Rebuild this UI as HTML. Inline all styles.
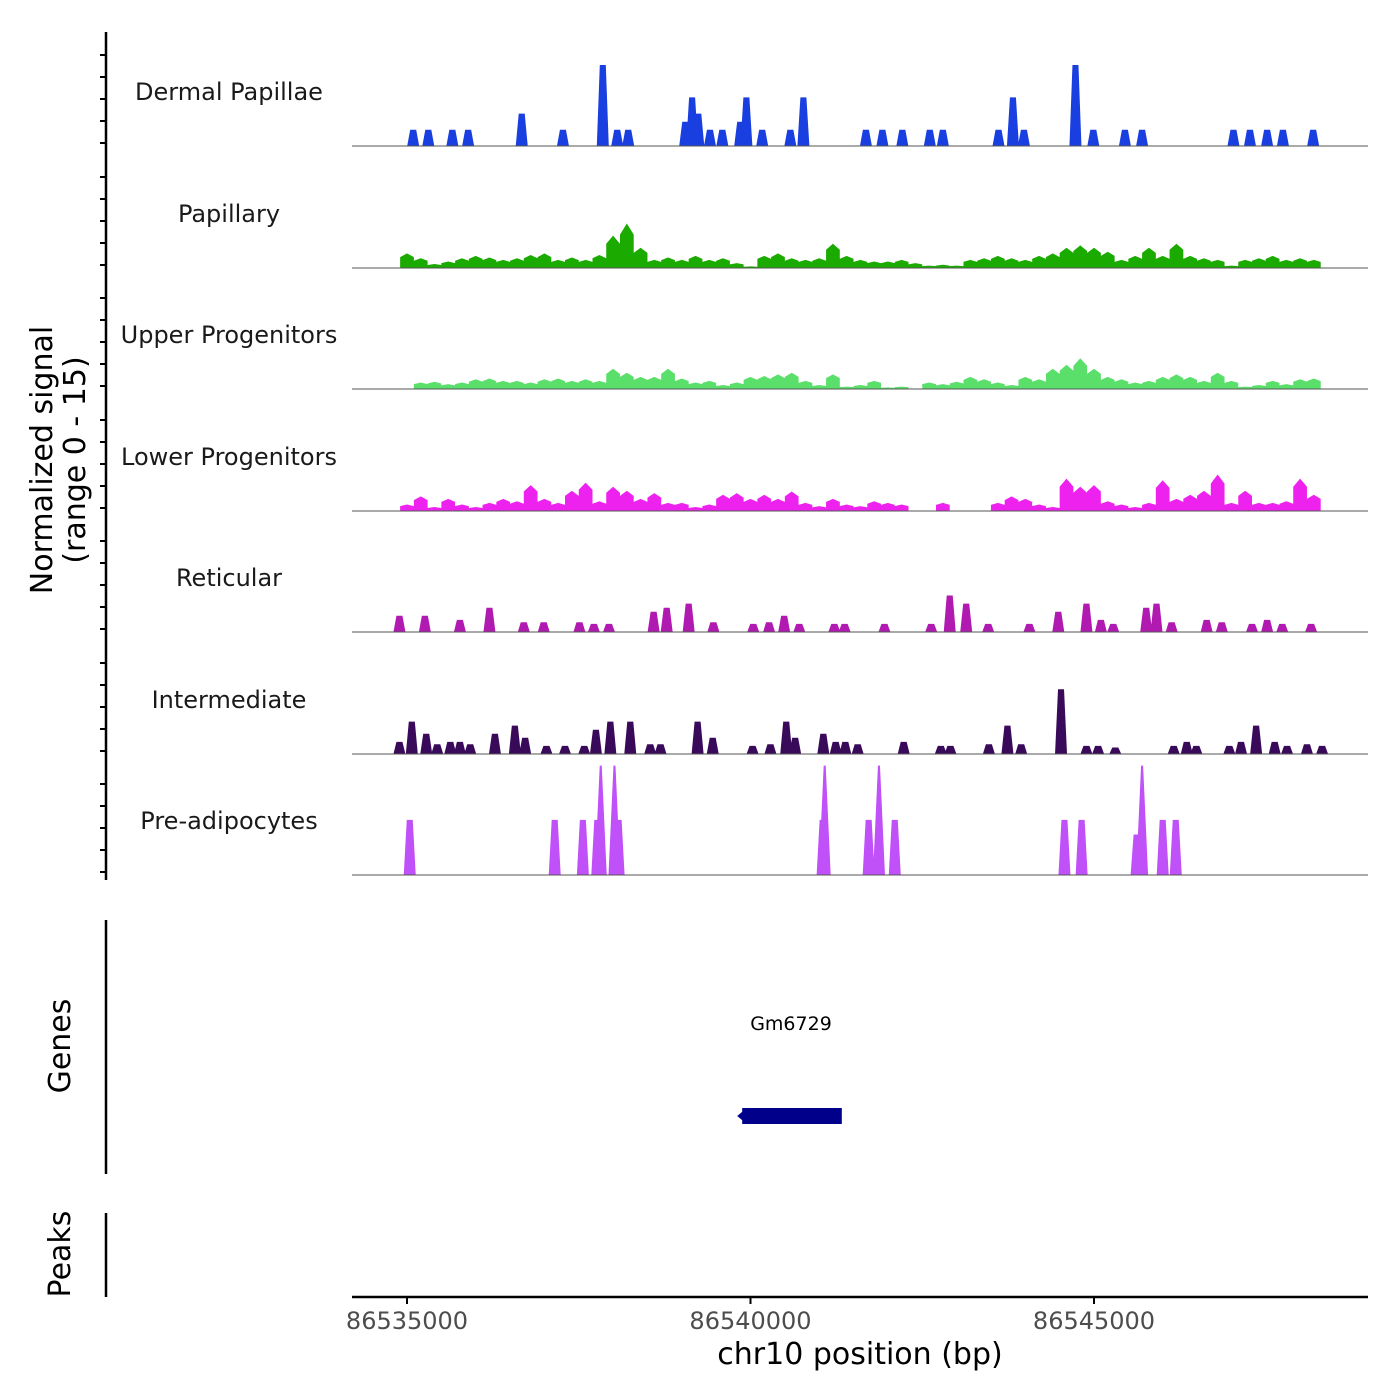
<!DOCTYPE html>
<html><head><meta charset="utf-8"><style>
html,body{margin:0;padding:0;background:#fff;}
svg{display:block;font-family:"DejaVu Sans","Liberation Sans",sans-serif;}
</style></head><body>
<svg id="chart" width="1400" height="1400" viewBox="0 0 1400 1400" xmlns="http://www.w3.org/2000/svg">
<g id="tracks"></g>
<g id="axes"></g>
</svg>
<script>
// ---- data (positions in kb, signal 0-15) ----
const trackNames = ["Dermal Papillae","Papillary","Upper Progenitors","Lower Progenitors","Reticular","Intermediate","Pre-adipocytes"];
const trackColors = ["#1a3fe0","#1aaa00","#5adf6a","#ee22ee","#b01ab0","#3a0a5a","#c050f8"];
const xTickValues = [86535000,86540000,86545000];
const xTickLabels = ["86535000","86540000","86545000"];
// binned tracks: 200bp bins starting at 86534.9 kb
const binStartKb = 86534.9;
const binSizeKb = 0.2;
const papillaryValues = [1.8,1.2,0.5,0.8,1.2,1.5,1.3,1.0,1.2,1.6,1.8,1.0,1.3,1.0,1.6,4.0,5.5,2.5,1.0,1.3,1.0,1.5,1.0,1.2,0.6,0.2,1.5,1.8,1.2,1.0,1.2,3.0,1.5,1.0,0.8,0.8,1.0,0.6,0.3,0.4,0.3,1.0,1.2,1.5,1.2,1.0,1.5,1.8,2.5,2.8,2.5,2.0,1.0,1.5,2.5,1.5,3.0,1.5,1.2,1.0,0.3,1.0,1.2,1.5,1.0,1.2,1.0];
const upperValues = [0,0.8,0.9,0.6,0.8,1.2,1.3,1.0,1.0,0.8,1.2,1.3,1.0,1.2,1.0,2.5,2.0,1.5,1.5,2.5,1.3,0.8,1.0,0.5,0.8,1.5,1.6,1.8,2.0,1.0,0.5,1.8,0.3,0.5,1.0,0.2,0.3,0,0.8,0.6,0.9,1.5,1.2,0.8,0.5,1.5,1.2,2.5,3.0,3.8,2.5,1.5,1.2,0.8,1.0,1.5,1.8,1.5,1.0,2.0,1.0,0.3,0.5,1.0,0.6,1.2,1.3];
const lowerValues = [0.8,1.8,0.5,1.5,0.8,0.5,1.0,1.5,1.2,3.2,1.5,1.0,2.5,3.5,1.2,3.0,2.5,1.5,2.2,1.0,1.0,0.5,0.8,2.0,2.2,1.5,2.0,1.5,2.4,1.0,0.6,1.5,0.8,0.6,1.2,1.0,0.8,0,0,1.0,0,0,0,1.0,1.8,1.5,0.8,0.5,4.0,3.0,3.2,1.2,0.8,0.5,1.0,3.8,1.5,2.0,2.5,4.5,1.0,2.5,1.0,1.0,1.2,4.0,2.0];
// peak tracks: positions (kb) and values
const dermalPos = [86535.09,86535.31,86535.66,86535.89,86536.67,86537.27,86537.85,86538.06,86538.22,86539.05,86539.15,86539.24,86539.41,86539.59,86539.85,86539.94,86540.17,86540.58,86540.77,86541.68,86541.92,86542.21,86542.61,86542.80,86543.61,86543.82,86543.98,86544.73,86544.99,86545.45,86545.70,86547.03,86547.27,86547.52,86547.75,86548.19];
const dermalVal = [2,2,2,2,4,2,10,2,2,3,6,4,2,2,3,6,2,2,6,2,2,2,2,2,2,6,2,10,2,2,2,2,2,2,2,2];
const reticularPos = [86534.89,86535.26,86535.77,86536.20,86536.70,86536.99,86537.51,86537.72,86537.94,86538.59,86538.78,86539.10,86539.46,86540.04,86540.27,86540.49,86540.71,86541.22,86541.37,86541.95,86542.63,86542.90,86543.14,86543.46,86544.06,86544.48,86544.89,86545.10,86545.28,86545.76,86545.91,86546.13,86546.64,86546.86,86547.30,86547.52,86547.74,86548.16];
const reticularVal = [2,2,1.5,3,1.2,1.2,1.2,1,1,2.5,3,3.5,1.2,1,1.2,2,1,1,1,1,1,4.5,3.5,1,1,2.5,3.5,1.5,1,3,3.5,1.2,1.5,1.2,1,1.5,1,1];
const intermediatePos = [86534.89,86535.07,86535.28,86535.44,86535.63,86535.77,86535.92,86536.28,86536.57,86536.72,86537.03,86537.30,86537.58,86537.75,86537.96,86538.25,86538.54,86538.69,86539.23,86539.45,86540.03,86540.29,86540.52,86540.65,86541.06,86541.24,86541.38,86541.56,86542.23,86542.77,86542.91,86543.47,86543.74,86543.94,86544.52,86544.89,86545.06,86545.31,86546.16,86546.35,86546.49,86546.97,86547.14,86547.36,86547.63,86547.81,86548.10,86548.32];
const intermediateVal = [1.5,4,2.5,1.2,1.5,1.5,1.2,2.5,3.5,2,1,1,1,3,4,4,1.2,1.2,4,2,1,1.2,4,2,2.5,1.5,1.5,1.2,1.5,1,1,1.2,3.5,1.2,8,1,1,0.8,1,1.5,1,1,1.5,3.5,1.5,1,1.2,1];
const preadipoPos = [86535.04,86537.15,86537.56,86537.77,86537.82,86538.02,86538.08,86541.05,86541.08,86541.72,86541.87,86542.10,86544.57,86544.82,86545.62,86545.70,86546.00,86546.19];
const preadipoVal = [6.8,6.8,6.8,6.8,13.5,13.5,6.8,6.8,13.5,6.8,13.5,6.8,6.8,6.8,5,13.5,6.8,6.8];

// ---- scales ----
const PLOT_L = 352, PLOT_R = 1368;
const baselines = [146,268,389,511,632,754,875];
const PX_PER_UNIT = 8.1;
function xScale(kb){ return 407 + (kb - 86535) * 68.7; }
function yScale(v, base){ return base - v * PX_PER_UNIT; }

const NS = "http://www.w3.org/2000/svg";
function mk(tag, attrs, parent){ const e=document.createElementNS(NS,tag); for(const k in attrs) e.setAttribute(k,attrs[k]); parent.appendChild(e); return e; }
const tracks = document.getElementById('tracks');
const axes = document.getElementById('axes');

function binnedPath(vals, base){
  let d = "M" + xScale(binStartKb) + "," + base;
  vals.forEach((v,i)=>{
    const x0 = xScale(binStartKb + i*binSizeKb), x1 = xScale(binStartKb + (i+1)*binSizeKb);
    const xm = (x0+x1)/2;
    const y = yScale(v, base);
    const yj = yScale(v*0.75, base);
    d += " L" + x0 + "," + yj + " L" + xm + "," + y + " L" + x1 + "," + yj;
  });
  d += " L" + xScale(binStartKb + vals.length*binSizeKb) + "," + base + " Z";
  return d;
}
function peakPath(pos, vals, base){
  let d = "";
  pos.forEach((p,i)=>{
    const x = xScale(p), v = vals[i], y = yScale(v, base);
    const hw = 6, tw = v > 10 ? 1 : 3;
    d += "M" + (x-hw) + "," + base + " L" + (x-tw) + "," + y + " L" + (x+tw) + "," + y + " L" + (x+hw) + "," + base + " Z ";
  });
  return d;
}
const trackData = [
  {type:"peak", pos:dermalPos, val:dermalVal},
  {type:"bin", val:papillaryValues},
  {type:"bin", val:upperValues},
  {type:"bin", val:lowerValues},
  {type:"peak", pos:reticularPos, val:reticularVal},
  {type:"peak", pos:intermediatePos, val:intermediateVal},
  {type:"peak", pos:preadipoPos, val:preadipoVal}
];
trackNames.forEach((name, t)=>{
  const base = baselines[t];
  const g = mk('g', {}, tracks);
  
  
  const td = trackData[t];
  const d = td.type === "bin" ? binnedPath(td.val, base) : peakPath(td.pos, td.val, base);
  const area = mk('path', {d:d, fill:trackColors[t], stroke:'none'}, g);
  
  
  const bl = mk('line', {x1:PLOT_L, x2:PLOT_R, y1:base, y2:base, stroke:'#555', 'stroke-width':1}, g);
  
  
  const lab = mk('text', {x:229, y:base-46, 'text-anchor':'middle', 'font-size':24, fill:'#1a1a1a'}, g);
  lab.textContent = name;
  
  
});

// left signal axis
const la = mk('line', {x1:106, x2:106, y1:32, y2:880, stroke:'#000', 'stroke-width':2.5}, axes);


baselines.forEach((b,t)=>{
  for(let k=0;k<5;k++){
    const y = b - 3 - k*22;
    if (y < 30) continue;
    const tk = mk('line', {x1:100, x2:106, y1:y, y2:y, stroke:'#000', 'stroke-width':2}, axes);
    
    
  }
});
const yt = mk('text', {transform:'translate(52,460) rotate(-90)', 'text-anchor':'middle', 'font-size':30, fill:'#000'}, axes);


const t1 = mk('tspan', {x:0, dy:0}, yt); t1.textContent = "Normalized signal";
const t2 = mk('tspan', {x:0, dy:33}, yt); t2.textContent = "(range 0 - 15)";

// genes panel
const ga = mk('line', {x1:106, x2:106, y1:920, y2:1174, stroke:'#000', 'stroke-width':2.5}, axes);


const gt = mk('text', {transform:'translate(70,1046) rotate(-90)', 'text-anchor':'middle', 'font-size':30, fill:'#000'}, axes);
gt.textContent = "Genes";


const geneStart = 86539.85, geneEnd = 86541.30;
const gb = mk('rect', {x:xScale(geneStart)+2, y:1108, width:xScale(geneEnd)-xScale(geneStart), height:16, fill:'#00008b'}, axes);


const ga2 = mk('path', {d:"M"+(xScale(geneStart)-3)+",1116 L"+(xScale(geneStart)+3)+",1111 L"+(xScale(geneStart)+3)+",1121 Z", fill:'#00008b'}, axes);


const gl = mk('text', {x:(xScale(geneStart)+xScale(geneEnd))/2+1, y:1030, 'text-anchor':'middle', 'font-size':19, fill:'#000'}, axes);
gl.textContent = "Gm6729";



// peaks panel
const pa = mk('line', {x1:106, x2:106, y1:1213, y2:1297, stroke:'#000', 'stroke-width':2.5}, axes);


const pt = mk('text', {transform:'translate(70,1254) rotate(-90)', 'text-anchor':'middle', 'font-size':30, fill:'#000'}, axes);
pt.textContent = "Peaks";



// x axis
const xa = mk('line', {x1:PLOT_L, x2:PLOT_R, y1:1297, y2:1297, stroke:'#000', 'stroke-width':2.5}, axes);


xTickValues.forEach((v,i)=>{
  const x = xScale(v/1000);
  const tk = mk('line', {x1:x, x2:x, y1:1297, y2:1304, stroke:'#000', 'stroke-width':2}, axes);
  
  
  const tl = mk('text', {x:x, y:1329, 'text-anchor':'middle', 'font-size':24, fill:'#4d4d4d'}, axes);
  tl.textContent = xTickLabels[i];
  
  
});
const xt = mk('text', {x:860, y:1364, 'text-anchor':'middle', 'font-size':30, fill:'#000'}, axes);
xt.textContent = "chr10 position (bp)";


</script>
</body></html>
